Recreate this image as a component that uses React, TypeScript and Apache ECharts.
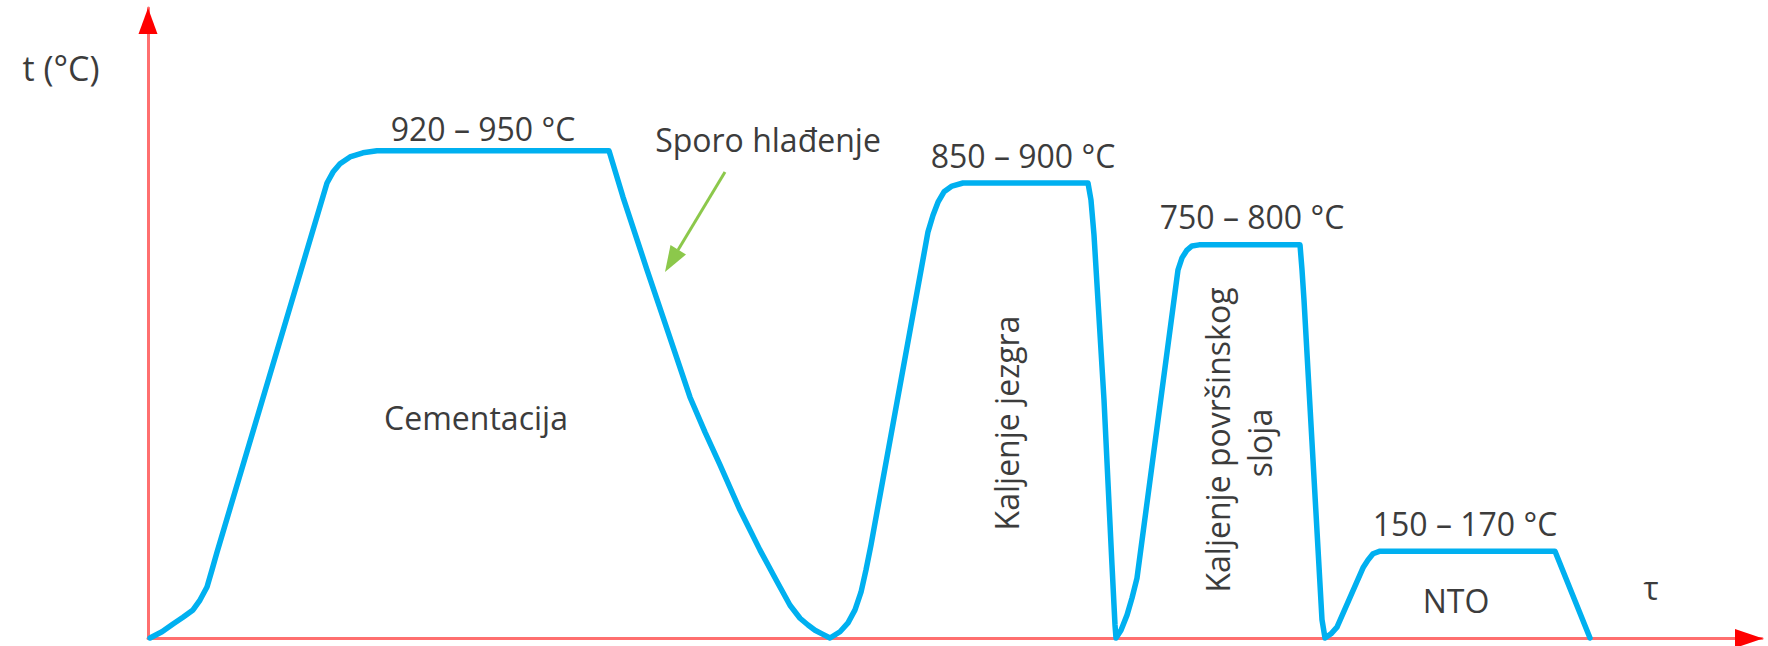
import React, { useEffect, useRef } from "react";
import * as echarts from "echarts";

// Time (arbitrary units along τ) and temperature (°C-like units)
const TIME = [
  // heating + cementation
  0.2, 1.4, 2.5, 3.5, 4.5, 5.2, 5.9, 6.4, 6.9, 17.9, 18.5, 19.2, 20.2, 21.5, 22.9, 46.1,
  // slow cooling
  47.5, 49.9, 51.5, 54.2, 55.7, 57.2, 59.2, 61.2, 62.8, 64.2, 65.2, 66.0, 66.7, 67.4, 68.2,
  // core hardening
  69.2, 70.0, 70.7, 71.3, 71.8, 72.3, 78.0, 78.5, 79.0, 79.6, 80.4, 81.5, 94.0,
  94.3, 94.6, 95.6, 96.4, 96.6, 96.7, 96.8,
  // surface layer hardening
  97.3, 97.9, 98.4, 98.9, 103.0, 103.4, 103.9, 104.4, 105.1, 115.2,
  115.4, 115.6, 117.4, 117.7,
  // low-temperature tempering (NTO)
  118.3, 118.9, 121.5, 122.0, 122.5, 123.2, 140.7, 144.2,
];
const TEMP = [
  0, 12, 27, 40, 54, 73, 98, 131, 165, 875, 896, 912, 925, 933, 937, 937,
  848, 708, 617, 463, 396, 333, 246, 169, 112, 63, 38, 25, 15, 8, 0,
  12, 29, 54, 88, 131, 179, 781, 813, 838, 858, 869, 875, 875,
  842, 775, 458, 140, 63, 25, 0,
  15, 44, 77, 115, 708, 731, 746, 754, 756, 756,
  708, 650, 35, 0,
  8, 21, 135, 150, 162, 167, 167, 0,
];

const PLATEAU_LABELS = ["920 – 950 °C", "850 – 900 °C", "750 – 800 °C", "150 – 170 °C"];
const STAGE_LABELS = ["Cementacija", "Kaljenje jezgra", "Kaljenje površinskog", "sloja", "NTO"];
const Y_AXIS_NAME = "t (°C)";
const X_AXIS_NAME = "τ";
const NOTE = "Sporo hlađenje";

const X_MAX = 161.4;
const Y_MAX = 1211.5;

const CURVE_COLOR = "#00B0F0";
const AXIS_COLOR = "#ff6f6f";
const ARROW_COLOR = "#ff0000";
const NOTE_COLOR = "#8cc84b";
const TEXT_COLOR = "#3c3c3c";
const FONT = '"Open Sans", "Noto Sans", sans-serif';

export default function App() {
  const ref = useRef<HTMLDivElement>(null);

  useEffect(() => {
    const el = ref.current!;
    const chart = echarts.init(el, undefined, { renderer: "svg" });
    const data = TIME.map((t, i) => [t, TEMP[i]]);

    const txt = (text: string, x: number, y: number, rotation = 0, size = 32) => ({
      type: "text",
      x,
      y,
      rotation,
      z: 100,
      silent: true,
      style: {
        text,
        fill: TEXT_COLOR,
        fontSize: size,
        fontFamily: FONT,
        align: "center",
        verticalAlign: "middle",
      },
    });

    const axisCommon = {
      type: "value",
      axisLine: { show: true, onZero: false, lineStyle: { color: AXIS_COLOR, width: 3 } },
      axisTick: { show: false },
      axisLabel: { show: false },
      splitLine: { show: false },
    };

    chart.setOption({
      animation: false,
      backgroundColor: "#ffffff",
      grid: { left: 148, right: 6, top: 8, bottom: 8 },
      xAxis: { ...axisCommon, min: 0, max: X_MAX },
      yAxis: { ...axisCommon, min: 0, max: Y_MAX },
      series: [
        {
          type: "line",
          data,
          showSymbol: false,
          clip: false,
          silent: true,
          smooth: false,
          lineStyle: { color: CURVE_COLOR, width: 5.5, join: "round", cap: "round" },
        },
      ],
      graphic: [
        // axis arrowheads
        { type: "polygon", z: 100, silent: true, shape: { points: [[148, 8], [138.5, 34], [157.5, 34]] }, style: { fill: ARROW_COLOR } },
        { type: "polygon", z: 100, silent: true, shape: { points: [[1763, 638.5], [1735, 629], [1735, 648]] }, style: { fill: ARROW_COLOR } },
        // green note arrow
        { type: "line", z: 100, silent: true, shape: { x1: 725, y1: 172, x2: 678, y2: 250 }, style: { stroke: NOTE_COLOR, lineWidth: 3 } },
        { type: "polygon", z: 100, silent: true, shape: { points: [[665, 272], [686, 254.5], [670.5, 245]] }, style: { fill: NOTE_COLOR } },
        txt(Y_AXIS_NAME, 61, 68, 0, 34),
        txt(X_AXIS_NAME, 1651, 587),
        txt(NOTE, 768, 139),
        txt(PLATEAU_LABELS[0], 483, 128),
        txt(PLATEAU_LABELS[1], 1023, 155),
        txt(PLATEAU_LABELS[2], 1252, 216),
        txt(PLATEAU_LABELS[3], 1465, 523),
        txt(STAGE_LABELS[0], 476, 417),
        txt(STAGE_LABELS[1], 1006.5, 423, Math.PI / 2),
        txt(STAGE_LABELS[2], 1217.5, 440, Math.PI / 2),
        txt(STAGE_LABELS[3], 1259, 443, Math.PI / 2),
        txt(STAGE_LABELS[4], 1456, 600),
      ],
    });

    return () => chart.dispose();
  }, []);

  return (
    <div
      ref={ref}
      style={{ position: "fixed", left: 0, top: 0, width: 1768, height: 646, background: "#fff" }}
    />
  );
}
